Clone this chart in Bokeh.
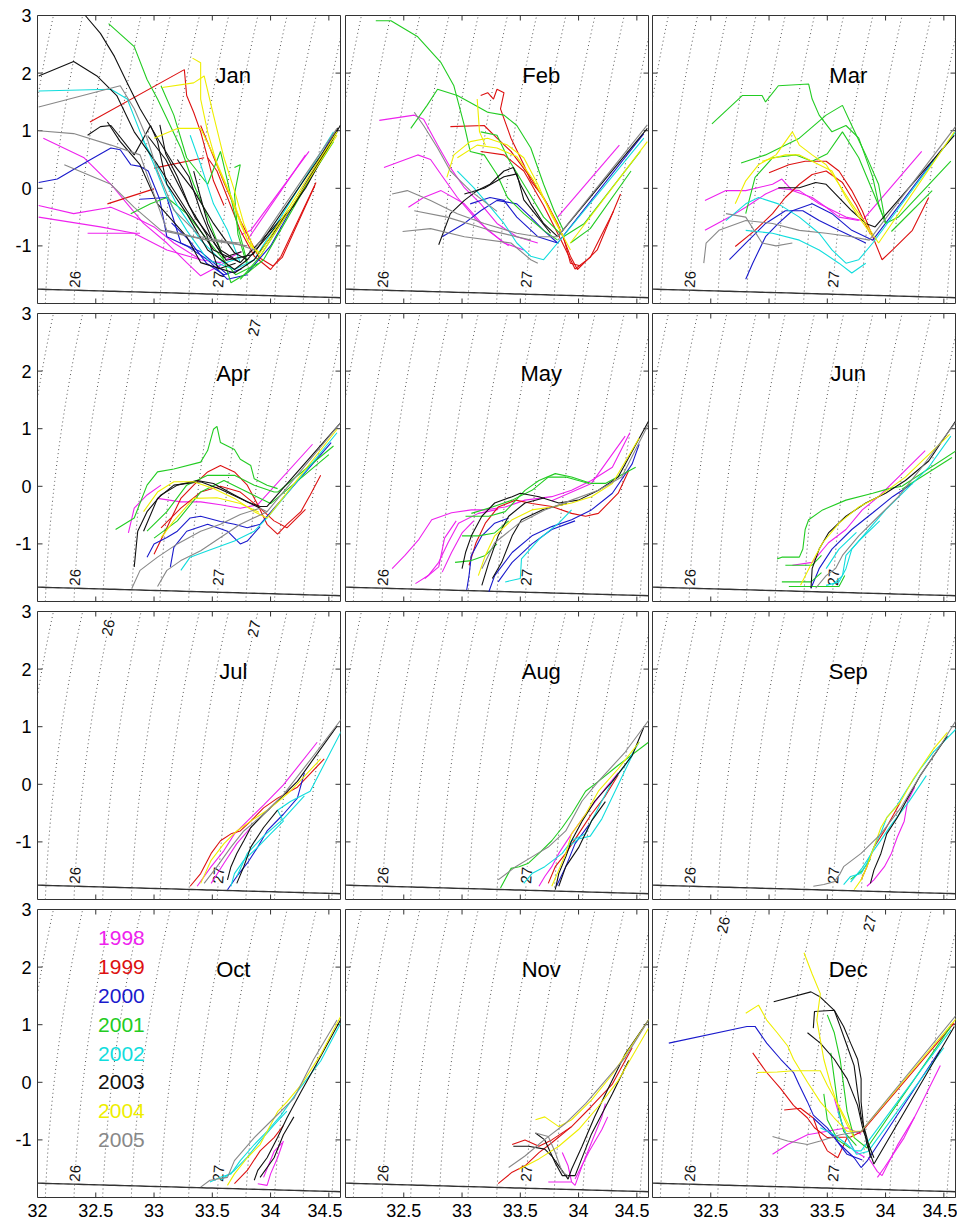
import numpy as np
from bokeh.plotting import figure
from bokeh.models import Range1d, FixedTicker, ColumnDataSource
from bokeh.layouts import gridplot
from bokeh.embed import file_html
from bokeh.resources import INLINE
from bokeh.core.properties import value

FONT = "Liberation Sans"
MONTHS = ["Jan", "Feb", "Mar", "Apr", "May", "Jun", "Jul", "Aug", "Sep", "Oct", "Nov", "Dec"]
YEARS = [1998, 1999, 2000, 2001, 2002, 2003, 2004, 2005]
YEAR_COLORS = ["#ee22ee", "#dd1111", "#1a1acc", "#22cc22", "#11dddd", "#111111", "#eeee00", "#888888"]
X_TICKS = [32.0, 32.5, 33.0, 33.5, 34.0, 34.5]
Y_TICKS = [-1, 0, 1, 2, 3]
SIGMA_LEVELS = [25.2, 25.4, 25.6, 25.8, 26.0, 26.2, 26.4, 26.6, 26.8, 27.0,
                27.2, 27.4, 27.6, 27.8, 28.0, 28.2]
BOTTOM_LABELS = [(26, -1.58), (27, -1.58)]
TOP_LABELS = {"Apr": [(27, 2.75)], "Jul": [(26, 2.72), (27, 2.70)], "Dec": [(26, 2.73), (27, 2.76)]}

# ---- profiles: (year, [(S, T), ...]) ----
JAN = [
    (2003, [(32.41, 3.0), (32.54, 2.69), (32.66, 2.29), (32.77, 1.83), (32.88, 1.38), (33.03, 0.87), (33.17, 0.41), (33.34, -0.04), (33.51, -0.61), (33.69, -1.12), (33.80, -1.24), (34.17, -0.38), (34.57, 0.98)]),
    (2003, [(32.01, 1.95), (32.31, 2.2), (32.51, 1.95), (32.68, 1.61), (32.83, 0.98), (33.03, 0.41), (33.28, -0.38), (33.51, -1.07), (33.74, -1.29), (34.2, -0.3), (34.58, 1.05)]),
    (2003, [(32.43, 0.92), (32.54, 1.07), (32.63, 1.09), (32.83, 0.58), (32.97, 1.09), (33.03, 0.81), (33.11, 0.07), (33.28, -0.44), (33.46, -1.07), (33.69, -1.41), (33.80, -1.24)]),
    (2003, [(32.60, 1.15), (32.71, 0.81), (32.88, 0.41), (33.03, -0.27), (33.28, -0.84), (33.40, -1.29), (33.69, -1.47), (33.86, -1.24), (34.3, 0.0), (34.6, 1.1)]),
    (2003, [(33.34, 0.30), (33.40, -0.16), (33.46, -0.61), (33.57, -1.07), (33.74, -1.29)]),
    (2003, [(32.95, 0.9), (33.1, 0.5), (33.2, 0.1), (33.35, -0.5), (33.5, -0.9), (33.6, -1.2), (33.75, -1.1)]),
    (2003, [(33.05, 1.1), (33.1, 0.6), (33.2, 0.2), (33.3, -0.3), (33.45, -0.8), (33.55, -1.4), (33.7, -1.3)]),
    (2003, [(33.2, 0.5), (33.3, 0.2), (33.4, -0.4), (33.5, -0.9), (33.62, -1.25), (33.85, -1.15), (34.55, 0.92)]),
    (2005, [(32.01, 1.41), (32.71, 1.78), (32.83, 1.38), (32.94, 0.87), (33.03, 0.30), (33.17, -0.38), (33.40, -0.84), (33.69, -0.95), (33.86, -1.07), (34.57, 1.04)]),
    (2005, [(32.01, 1.0), (32.31, 0.95), (32.63, 0.75), (32.88, 0.58), (33.11, -0.73), (33.46, -0.9), (33.74, -0.95)]),
    (2005, [(32.23, 0.41), (32.63, 0.07), (32.83, -0.33), (33.06, -0.73), (33.46, -0.9), (33.80, -1.0)]),
    (2002, [(32.01, 1.69), (32.63, 1.72), (32.77, 1.55), (32.88, 0.98), (33.0, 0.41), (33.11, -0.16), (33.28, -0.73), (33.46, -1.24), (33.69, -1.41), (33.86, -1.24), (34.54, 0.98)]),
    (2002, [(33.31, 0.92), (33.40, 0.41), (33.51, -0.27), (33.63, -0.73), (33.74, -1.29)]),
    (2002, [(32.9, 0.85), (33.05, 0.3), (33.2, -0.3), (33.4, -0.9), (33.6, -1.3), (33.75, -1.2)]),
    (2001, [(32.61, 2.86), (32.83, 2.46), (32.94, 1.89), (33.03, 1.55), (33.11, 1.21), (33.23, 0.70), (33.34, 0.07), (33.46, -0.50), (33.57, -1.07), (33.66, -1.64), (33.80, -1.47), (33.94, -1.24), (34.54, 0.87)]),
    (2001, [(33.06, 1.78), (33.17, 1.27), (33.28, 0.53), (33.46, 0.07), (33.57, 0.64), (33.63, 0.13), (33.69, -0.44), (33.80, -1.29)]),
    (2001, [(32.80, -0.44), (32.97, -0.27), (33.11, -0.16), (33.28, -0.44), (33.5, -1.0), (33.7, -1.5), (33.9, -1.3)]),
    (2001, [(33.74, -1.58), (33.91, -1.18), (34.54, 0.81)]),
    (2001, [(33.69, 0.36), (33.74, 0.41), (33.69, -0.1), (33.72, -0.8), (33.8, -1.35)]),
    (2004, [(33.33, 2.26), (33.40, 2.18), (33.40, 1.55), (33.46, 0.98), (33.54, 0.41), (33.66, -0.16), (33.74, -0.61), (33.83, -1.01), (33.91, -1.12), (34.57, 0.98)]),
    (2004, [(33.07, 1.75), (33.34, 1.83), (33.43, 1.95), (33.51, 1.27), (33.60, 0.53), (33.69, -0.04), (33.77, -0.61), (33.86, -1.07)]),
    (2004, [(33.0, 0.87), (33.20, 1.04), (33.40, 1.04), (33.51, 0.58), (33.69, -0.27), (33.8, -0.9), (33.91, -1.18), (34.57, 0.92)]),
    (1999, [(32.45, 1.15), (33.26, 2.06), (33.28, 1.61), (33.34, 1.32), (33.40, 0.98), (33.46, 0.53), (33.51, 0.13), (33.6, -0.3)]),
    (1999, [(32.60, -0.27), (33.0, -0.01)]),
    (1999, [(33.0, 0.35), (33.43, 0.53)]),
    (1999, [(33.46, 0.53), (33.54, 0.30), (33.63, -0.16), (33.74, -0.73), (33.86, -1.18), (34.0, -1.41), (34.09, -1.18), (34.39, 0.10)]),
    (1999, [(33.40, 1.09), (33.5, 0.6), (33.6, 0.1), (33.75, -0.6), (33.9, -1.2), (34.02, -1.35), (34.1, -1.2), (34.38, 0.05)]),
    (1998, [(32.05, 0.87), (32.40, 0.53), (32.63, 0.07), (32.77, -0.27), (32.91, -0.61), (33.11, -0.95), (33.28, -1.29), (33.40, -1.52), (33.6, -1.3)]),
    (1998, [(32.01, -0.30), (32.31, -0.44), (32.63, -0.33), (32.83, -0.50), (33.0, -0.67), (33.17, -0.95), (33.40, -1.24), (33.57, -1.29), (33.75, -1.1)]),
    (1998, [(32.01, -0.5), (32.54, -0.67), (32.83, -0.78), (33.11, -1.07), (33.40, -1.24)]),
    (1998, [(32.43, -0.78), (32.88, -0.78)]),
    (1998, [(33.75, -0.8), (33.83, -0.73), (34.33, 0.64)]),
    (1998, [(33.8, -0.9), (34.3, 0.58)]),
    (2000, [(32.01, 0.1), (32.17, 0.16), (32.43, 0.47), (32.63, 0.70), (32.71, 0.67), (32.80, 0.41), (32.88, 0.38), (32.95, 0.3), (33.05, -0.2), (33.11, -0.84), (33.28, -1.0), (33.46, -1.24), (33.63, -1.58), (33.80, -1.5)]),
    (2000, [(32.88, -0.19), (33.11, -0.16), (33.23, -0.95), (33.40, -1.1), (33.63, -1.5)]),
    (2000, [(33.15, -0.6), (33.3, -0.9), (33.45, -1.3), (33.6, -1.5), (33.75, -1.4)]),
    (2000, [(33.80, -1.47), (34.0, -1.0), (34.54, 0.95)]),
]

FEB = [
    (2001, [(32.26, 2.91), (32.39, 2.91), (32.62, 2.63), (32.82, 2.18), (32.93, 1.78), (33.02, 1.09), (33.07, 0.64), (33.19, 0.58), (33.30, 0.24), (33.39, -0.16), (33.53, -0.44), (33.70, -0.73), (33.82, -0.90)]),
    (2001, [(32.56, 1.04), (32.70, 1.44), (32.79, 1.72), (32.96, 1.61), (33.07, 1.49), (33.22, 1.32), (33.36, 1.27), (33.47, 1.09), (33.59, 0.70), (33.70, 0.07), (33.79, -0.39), (33.87, -0.73)]),
    (2001, [(33.16, 0.98), (33.30, 0.92), (33.40, 0.5), (33.55, 0.0), (33.7, -0.5), (33.85, -0.8)]),
    (2001, [(33.87, -0.84), (34.05, -0.61), (34.53, 0.64)]),
    (2001, [(33.93, -0.95), (34.1, -0.7), (34.45, 0.30)]),
    (1999, [(33.16, 1.61), (33.22, 1.66), (33.27, 1.55), (33.30, 1.72), (33.36, 1.66), (33.33, 1.38), (33.42, 0.87), (33.53, 0.41), (33.59, 0.13), (33.70, -0.16), (33.82, -0.61), (33.93, -1.18), (33.99, -1.41), (34.05, -1.29), (34.16, -1.07), (34.36, -0.10)]),
    (1999, [(32.90, 1.07), (33.19, 1.09), (33.30, 0.87), (33.42, 0.64), (33.59, 0.18), (33.73, -0.27), (33.87, -0.84), (33.93, -1.3), (34.02, -1.35)]),
    (1999, [(33.16, 0.64), (33.36, 0.58), (33.53, 0.3), (33.7, -0.3), (33.85, -0.9), (33.97, -1.4), (34.1, -1.2), (34.3, -0.4)]),
    (2004, [(32.87, 0.19), (32.93, 0.58), (33.07, 0.81), (33.22, 0.87), (33.39, 0.75), (33.53, 0.53), (33.65, 0.07), (33.76, -0.44), (33.87, -0.84), (33.93, -1.07)]),
    (2004, [(33.13, 1.55), (33.15, 0.98), (33.2, 0.75)]),
    (2004, [(32.96, 0.53), (33.13, 0.75), (33.30, 0.70), (33.47, 0.55), (33.61, 0.15), (33.76, -0.4), (33.87, -0.84)]),
    (2004, [(33.93, -0.95), (34.59, 0.81)]),
    (2003, [(32.80, -0.98), (32.90, -0.44), (33.02, -0.21), (33.13, -0.04), (33.24, 0.07), (33.36, 0.30), (33.44, 0.36), (33.50, 0.07), (33.59, -0.27), (33.70, -0.61), (33.82, -0.84), (34.59, 1.04)]),
    (2003, [(33.02, -0.1), (33.19, 0.0), (33.36, 0.2), (33.47, 0.25), (33.53, -0.2), (33.65, -0.5), (33.76, -0.78)]),
    (2005, [(32.40, -0.10), (32.53, -0.04), (32.73, -0.21), (32.96, -0.44), (33.19, -0.61), (33.47, -0.78), (33.65, -0.84), (33.82, -0.84), (34.59, 1.1)]),
    (2005, [(32.59, -0.39), (32.87, -0.5), (33.24, -0.73), (33.59, -0.9)]),
    (2005, [(32.49, -0.75), (32.73, -0.70), (33.02, -0.84), (33.42, -0.95), (33.59, -1.24), (33.65, -1.3)]),
    (2005, [(32.59, 1.32), (32.67, 1.09), (32.79, 0.70), (32.90, 0.30), (33.07, -0.04), (33.3, -0.4)]),
    (1998, [(32.29, 1.18), (32.59, 1.27), (32.67, 1.2), (32.79, 0.75), (32.90, 0.36), (33.02, 0.01), (33.16, -0.27), (33.30, -0.61), (33.47, -0.84), (33.65, -0.95)]),
    (1998, [(32.33, 0.36), (32.62, 0.58), (32.73, 0.5), (32.82, 0.24), (32.96, -0.16), (33.13, -0.56), (33.36, -0.95), (33.53, -1.07)]),
    (1998, [(32.54, -0.33), (32.67, -0.16), (32.82, -0.04), (33.02, -0.27), (33.22, -0.73), (33.4, -1.0)]),
    (1998, [(33.82, -0.50), (34.35, 0.75)]),
    (2002, [(32.96, 0.30), (33.10, 0.01), (33.22, -0.27), (33.36, -0.61), (33.47, -0.95), (33.59, -1.18), (33.70, -1.24), (33.82, -0.95), (34.56, 0.87)]),
    (2000, [(32.83, -0.84), (33.02, -0.61), (33.16, -0.39), (33.30, -0.21), (33.47, -0.27), (33.59, -0.50), (33.70, -0.73), (33.82, -0.95), (34.56, 0.95)]),
    (2000, [(33.07, -0.27), (33.24, -0.16), (33.36, -0.21), (33.47, -0.5), (33.65, -0.84), (33.82, -0.95)]),
]

MAR = [
    (2001, [(32.51, 1.12), (32.77, 1.61), (32.94, 1.61), (32.97, 1.5), (33.08, 1.78), (33.34, 1.81), (33.37, 1.55), (33.43, 1.27), (33.54, 0.98), (33.66, 1.09), (33.77, 0.87), (33.89, 0.19), (33.94, -0.27), (34.0, -0.61)]),
    (2001, [(32.76, 0.44), (32.97, 0.58), (33.26, 0.87), (33.49, 1.27), (33.63, 1.44), (33.71, 1.09), (33.83, 0.58), (33.94, 0.07), (34.0, -0.61)]),
    (2001, [(32.80, -0.44), (32.88, 0.19), (33.03, 0.53), (33.23, 0.58), (33.37, 0.47), (33.5, 0.6), (33.63, 0.98), (33.77, 0.53), (33.9, -0.1), (34.0, -0.6)]),
    (2001, [(34.0, -0.61), (34.11, -0.50), (34.56, 0.47)]),
    (2001, [(34.05, -0.75), (34.40, -0.04)]),
    (2004, [(32.71, -0.27), (32.80, 0.13), (32.91, 0.41), (33.06, 0.58), (33.20, 0.98), (33.26, 0.75), (33.37, 0.58), (33.49, 0.41), (33.60, 0.07), (33.71, -0.27), (33.83, -0.61), (33.94, -0.95), (34.59, 0.98)]),
    (2004, [(32.94, 0.47), (33.14, 0.58), (33.26, 0.58), (33.43, 0.41), (33.54, 0.3), (33.66, -0.16), (33.77, -0.5), (33.89, -0.84)]),
    (1999, [(33.0, 0.27), (33.17, 0.41), (33.31, 0.47), (33.49, 0.47), (33.60, 0.30), (33.71, -0.04), (33.80, -0.39), (33.89, -0.84), (33.97, -1.24), (34.06, -1.07), (34.23, -0.73), (34.37, -0.16)]),
    (1999, [(32.71, -1.01), (32.88, -0.73), (33.03, -0.44), (33.14, -0.16), (33.26, 0.07), (33.37, 0.24), (33.49, 0.3), (33.63, 0.1), (33.75, -0.3), (33.87, -0.8)]),
    (1998, [(32.45, -0.21), (32.63, -0.04), (32.80, -0.04), (33.03, 0.07), (33.11, 0.16), (33.20, -0.04), (33.37, -0.16), (33.49, -0.33), (33.60, -0.50), (33.77, -0.56)]),
    (1998, [(32.45, -0.73), (32.66, -0.50), (32.80, -0.33), (32.97, -0.10), (33.08, 0.0), (33.26, -0.04), (33.43, -0.27), (33.66, -0.50), (33.80, -0.56), (34.31, 0.64)]),
    (2003, [(33.08, 0.01), (33.26, 0.01), (33.40, 0.10), (33.49, 0.07), (33.60, -0.16), (33.71, -0.39), (33.83, -0.61), (33.91, -0.67), (34.59, 0.92)]),
    (2005, [(32.44, -1.30), (32.46, -0.95), (32.57, -0.73), (32.80, -0.56), (33.03, -0.61), (33.26, -0.73), (33.49, -0.78), (33.71, -0.84), (33.86, -0.90), (34.63, 1.15)]),
    (2005, [(32.63, -0.44), (32.80, -0.5), (32.94, -0.95), (33.06, -1.0), (33.2, -0.95)]),
    (2002, [(32.63, -0.56), (32.80, -0.27), (32.91, -0.16), (33.08, -0.27), (33.26, -0.50), (33.43, -0.78), (33.54, -1.07), (33.66, -1.30), (33.77, -1.24), (33.89, -0.95), (34.60, 0.98)]),
    (2002, [(32.80, -0.73), (33.03, -0.78), (33.26, -0.90), (33.43, -1.07), (33.60, -1.30), (33.71, -1.47), (33.83, -1.3)]),
    (2000, [(32.80, -1.58), (32.86, -1.30), (32.97, -0.84), (33.08, -0.61), (33.20, -0.39), (33.37, -0.27), (33.54, -0.44), (33.71, -0.73), (33.89, -0.90), (34.49, 0.70)]),
    (2000, [(32.66, -1.24), (32.80, -0.95), (32.97, -0.61), (33.14, -0.39), (33.29, -0.39), (33.43, -0.56), (33.60, -0.73), (33.83, -0.95)]),
]

APR = [
    (2001, [(32.67, -0.75), (32.83, -0.55), (32.94, 0.02), (33.03, 0.25), (33.17, 0.30), (33.40, 0.42), (33.46, 0.62), (33.51, 0.99), (33.54, 1.04), (33.57, 0.76), (33.69, 0.64), (33.74, 0.47), (33.83, 0.36), (33.86, 0.13), (33.97, 0.02), (34.06, -0.04)]),
    (2001, [(32.94, -0.78), (33.11, -0.44), (33.28, 0.02), (33.46, 0.19), (33.69, 0.19), (33.86, 0.02), (34.03, -0.10), (34.06, -0.1), (34.54, 0.70)]),
    (2001, [(33.0, -0.9), (33.2, -0.6), (33.4, -0.1), (33.6, 0.1), (33.8, -0.1), (34.0, -0.3), (34.5, 0.55)]),
    (2004, [(32.91, -0.44), (33.03, -0.10), (33.17, 0.08), (33.34, 0.08), (33.51, -0.04), (33.69, -0.21), (33.86, -0.44), (33.97, -0.55), (34.57, 0.99)]),
    (2004, [(33.06, -0.89), (33.17, -0.6), (33.34, -0.21), (33.54, -0.2), (33.74, -0.3), (33.9, -0.45)]),
    (2003, [(32.83, -1.40), (32.86, -0.78), (32.94, -0.44), (33.06, -0.15), (33.20, 0.02), (33.37, 0.10), (33.51, 0.05), (33.69, -0.15), (33.80, -0.27), (33.91, -0.35), (33.97, -0.35), (34.60, 1.10)]),
    (2003, [(32.91, -0.78), (33.03, -0.21), (33.17, 0.02), (33.40, 0.08), (33.57, -0.05), (33.74, -0.21), (33.91, -0.38)]),
    (1999, [(33.0, -1.18), (33.11, -0.72), (33.23, -0.21), (33.34, 0.02), (33.46, 0.25), (33.57, 0.36), (33.69, 0.25), (33.80, 0.02), (33.89, -0.32), (33.97, -0.66), (34.06, -0.83), (34.14, -0.66), (34.26, -0.44), (34.34, -0.15), (34.43, 0.19)]),
    (1999, [(33.06, -0.72), (33.23, -0.38), (33.40, -0.10), (33.57, 0.0), (33.74, -0.1), (33.91, -0.38), (34.03, -0.6), (34.14, -0.72), (34.3, -0.4)]),
    (1998, [(32.78, -0.81), (32.83, -0.38), (32.94, -0.15), (33.06, 0.02)]),
    (1998, [(33.03, -0.21), (33.23, -0.27), (33.40, -0.27), (33.57, -0.32), (33.74, -0.38), (33.89, -0.32), (34.36, 0.73)]),
    (2000, [(32.94, -1.23), (33.0, -1.0), (33.11, -0.89), (33.20, -0.78), (33.31, -0.55), (33.40, -0.52), (33.57, -0.61), (33.69, -0.66), (33.80, -0.72), (33.91, -0.66), (34.52, 0.76)]),
    (2000, [(33.14, -1.40), (33.17, -1.06), (33.28, -0.78), (33.46, -0.66), (33.63, -0.78), (33.74, -1.0), (33.80, -0.95), (33.91, -0.7)]),
    (2005, [(32.81, -1.77), (32.88, -1.46), (33.03, -1.23), (33.20, -1.0), (33.40, -0.78), (33.57, -0.66), (33.74, -0.49), (33.91, -0.38), (33.97, -0.44), (34.60, 1.10)]),
    (2005, [(33.03, -1.74), (33.11, -1.46), (33.23, -1.29), (33.40, -1.12), (33.57, -0.89), (33.74, -0.66), (33.97, -0.44)]),
    (2002, [(33.23, -1.46), (33.31, -1.23), (33.46, -1.12), (33.69, -0.95), (33.86, -0.78), (33.97, -0.55), (34.57, 0.93)]),
]

MAY = [
    (1998, [(32.40, -1.43), (32.51, -1.20), (32.63, -0.92), (32.74, -0.58), (32.91, -0.46), (33.08, -0.41), (33.20, -0.41), (33.37, -0.36), (33.54, -0.24), (33.77, -0.18), (33.94, -0.07), (34.11, 0.10), (34.29, 0.33), (34.44, 0.93)]),
    (1998, [(32.60, -1.69), (32.71, -1.55), (32.80, -1.32), (32.88, -0.98), (32.97, -0.64), (33.14, -0.47), (33.31, -0.4)]),
    (1998, [(32.68, -1.60), (32.8, -1.4), (32.85, -0.9), (32.95, -0.6)]),
    (1998, [(32.83, -1.49), (32.91, -1.15), (33.0, -0.81), (33.1, -0.6)]),
    (1998, [(33.77, -0.25), (34.11, 0.05), (34.40, 0.87)]),
    (2003, [(33.0, -1.43), (33.03, -1.15), (33.08, -0.86), (33.17, -0.52), (33.28, -0.29), (33.43, -0.18), (33.50, -0.12), (33.66, -0.18), (33.83, -0.29), (34.0, -0.24), (34.17, -0.07), (34.34, 0.16), (34.60, 1.13)]),
    (2003, [(33.17, -1.72), (33.23, -1.32), (33.31, -0.86), (33.40, -0.52), (33.54, -0.29), (33.71, -0.2)]),
    (2003, [(33.26, -1.60), (33.34, -1.32), (33.43, -0.86), (33.51, -0.58), (33.7, -0.4), (33.9, -0.3)]),
    (2001, [(33.03, -0.52), (33.23, -0.52), (33.37, -0.44), (33.54, -0.07), (33.66, 0.10), (33.80, 0.22), (33.94, 0.16), (34.11, 0.05), (34.23, 0.05), (34.49, 0.33)]),
    (2001, [(33.08, -0.47), (33.26, -0.36), (33.43, -0.24), (33.60, -0.07), (33.74, 0.16), (33.89, 0.16), (34.09, 0.05)]),
    (2001, [(32.94, -1.32), (33.08, -1.29), (33.20, -1.20), (33.3, -1.0)]),
    (2001, [(33.0, -0.86), (33.14, -0.86), (33.28, -0.81), (33.4, -0.6)]),
    (1999, [(33.06, -1.37), (33.12, -0.98), (33.20, -0.64), (33.31, -0.36), (33.46, -0.24), (33.60, -0.3), (33.77, -0.35), (33.94, -0.47), (34.06, -0.52), (34.17, -0.47), (34.34, -0.12), (34.43, 0.27)]),
    (2004, [(33.14, -1.55), (33.20, -1.20), (33.28, -0.86), (33.43, -0.58), (33.60, -0.41), (33.77, -0.36), (33.94, -0.29), (34.11, -0.18), (34.29, 0.05), (34.52, 0.84)]),
    (2000, [(33.04, -1.80), (33.06, -1.55), (33.08, -1.20), (33.17, -0.86), (33.28, -0.64), (33.4, -0.55)]),
    (2000, [(33.23, -1.83), (33.28, -1.55), (33.43, -1.15), (33.60, -0.86), (33.77, -0.70), (33.94, -0.58), (34.11, -0.41), (34.29, -0.12), (34.46, 0.39), (34.52, 0.73)]),
    (2000, [(33.31, -1.66), (33.43, -1.32), (33.60, -1.0), (33.77, -0.75), (33.97, -0.6)]),
    (2002, [(33.37, -1.66), (33.50, -1.60), (33.51, -1.26), (33.66, -0.92), (33.83, -0.64), (33.94, -0.41)]),
    (2005, [(33.17, -1.43), (33.28, -0.98), (33.49, -0.64), (33.71, -0.41), (33.94, -0.24), (34.17, -0.07), (34.37, 0.16), (34.62, 1.16)]),
]

JUN = [
    (2001, [(33.07, -1.26), (33.11, -1.23), (33.26, -1.23), (33.29, -1.09), (33.31, -0.75), (33.34, -0.58), (33.46, -0.41), (33.66, -0.24), (33.89, -0.12), (34.03, -0.04), (34.14, 0.0), (34.63, 0.65)]),
    (2001, [(33.14, -1.37), (33.37, -1.37), (33.45, -1.2)]),
    (2001, [(33.11, -1.66), (33.36, -1.66), (33.45, -1.5)]),
    (2001, [(33.17, -1.74), (33.60, -1.74), (33.65, -1.55)]),
    (2001, [(34.14, -0.05), (34.57, 0.50)]),
    (2003, [(33.36, -1.77), (33.37, -1.43), (33.43, -1.09), (33.51, -0.81), (33.66, -0.52), (33.83, -0.29), (34.0, -0.12), (34.17, 0.10), (34.37, 0.44), (34.60, 1.13)]),
    (2004, [(33.27, -1.72), (33.37, -1.32), (33.46, -0.98), (33.60, -0.64), (33.77, -0.36), (33.94, -0.18), (34.17, 0.16), (34.55, 0.90)]),
    (1998, [(33.20, -1.37), (33.37, -1.32), (33.51, -0.98), (33.66, -0.75), (33.80, -0.41), (33.94, -0.18), (34.11, 0.16), (34.34, 0.62)]),
    (2000, [(33.36, -1.77), (33.43, -1.43), (33.54, -1.09), (33.71, -0.75), (33.89, -0.46), (34.06, -0.18), (34.23, 0.05)]),
    (2005, [(33.40, -1.77), (33.49, -1.55), (33.57, -1.43), (33.63, -1.20), (33.77, -0.86), (33.94, -0.52), (34.11, -0.18), (34.31, 0.33), (34.62, 1.16)]),
    (2002, [(33.49, -1.72), (33.60, -1.66), (33.66, -1.43), (33.71, -1.09), (33.83, -0.81), (34.0, -0.41), (34.17, -0.07), (34.37, 0.33), (34.56, 0.87)]),
    (2002, [(33.54, -1.72), (33.63, -1.55), (33.66, -1.2), (33.77, -0.95), (33.95, -0.6)]),
    (2002, [(33.49, -1.43), (33.60, -1.09), (33.75, -0.8)]),
]

JUL = [
    (1999, [(33.31, -1.77), (33.40, -1.55), (33.49, -1.20), (33.57, -0.98), (33.66, -0.86), (33.74, -0.81), (33.83, -0.64), (33.94, -0.41), (34.06, -0.24), (34.23, -0.05), (34.46, 0.44)]),
    (2004, [(33.40, -1.72), (33.49, -1.32), (33.60, -1.03), (33.71, -0.81), (33.83, -0.64), (34.0, -0.41), (34.17, -0.12), (34.43, 0.44)]),
    (1998, [(33.37, -1.77), (33.49, -1.43), (33.60, -1.15), (33.69, -0.86), (33.80, -0.64), (33.94, -0.36), (34.11, -0.01), (34.40, 0.73)]),
    (1998, [(33.49, -1.72), (33.60, -1.37), (33.71, -1.03), (33.83, -0.75)]),
    (2005, [(33.43, -1.72), (33.54, -1.43), (33.66, -1.09), (33.77, -0.81), (33.94, -0.52), (34.11, -0.18), (34.37, 0.50), (34.63, 1.19)]),
    (2003, [(33.63, -1.66), (33.66, -1.43), (33.71, -1.20), (33.77, -0.98), (33.83, -0.75), (33.94, -0.52), (34.06, -0.29), (34.23, 0.05), (34.57, 1.01)]),
    (2003, [(33.71, -1.72), (33.77, -1.43), (33.83, -1.09), (33.94, -0.75), (34.06, -0.45)]),
    (2002, [(33.66, -1.77), (33.69, -1.55), (33.77, -1.32), (33.89, -1.09), (34.0, -0.86), (34.11, -0.64), (34.06, -0.45), (34.17, -0.3), (34.34, -0.12), (34.63, 1.01)]),
    (2002, [(33.71, -1.60), (33.80, -1.2), (33.94, -0.9), (34.11, -0.6), (34.29, -0.2)]),
    (2000, [(33.63, -1.83), (33.71, -1.60), (33.80, -1.37), (33.89, -1.09), (33.97, -0.81), (34.11, -0.52), (34.23, -0.24), (34.29, 0.2)]),
]

AUG = [
    (2001, [(33.33, -1.80), (33.42, -1.46), (33.49, -1.43), (33.57, -1.37), (33.66, -1.20), (33.77, -0.98), (33.86, -0.75), (33.94, -0.52), (34.06, -0.12), (34.17, 0.05), (34.34, 0.33), (34.60, 0.73)]),
    (2005, [(33.31, -1.66), (33.46, -1.43), (33.60, -1.26), (33.74, -1.09), (33.89, -0.81), (34.03, -0.29), (34.17, 0.05), (34.40, 0.56), (34.62, 1.16)]),
    (2002, [(33.53, -1.72), (33.60, -1.55), (33.71, -1.43), (33.86, -1.20), (33.94, -0.98), (34.06, -0.86), (34.11, -0.64), (34.20, -0.29), (34.29, 0.05), (34.40, 0.33), (34.52, 0.73)]),
    (2002, [(33.90, -1.1), (34.0, -0.95), (34.1, -0.9), (34.2, -0.6), (34.46, 0.50)]),
    (1998, [(33.66, -1.77), (33.71, -1.60), (33.77, -1.43), (33.83, -1.20), (33.94, -0.86), (34.06, -0.52), (34.23, -0.07), (34.34, 0.2)]),
    (1999, [(33.74, -1.72), (33.80, -1.43), (33.89, -1.20), (34.0, -0.86), (34.11, -0.52), (34.23, -0.2), (34.34, 0.16)]),
    (2004, [(33.77, -1.77), (33.83, -1.49), (33.89, -1.2), (33.94, -0.86), (34.06, -0.52), (34.17, -0.12), (34.34, 0.27), (34.52, 0.73)]),
    (2003, [(33.80, -1.83), (33.83, -1.55), (33.89, -1.26), (33.94, -0.98), (34.03, -0.64), (34.14, -0.29), (34.29, 0.05), (34.46, 0.50), (34.56, 0.99)]),
    (2003, [(33.83, -1.77), (33.89, -1.43), (34.0, -1.1), (34.11, -0.64), (34.23, -0.3)]),
    (2000, [(33.81, -1.77), (33.89, -1.43), (33.97, -1.03), (34.09, -0.7)]),
]

SEP = [
    (2005, [(33.38, -1.77), (33.47, -1.74), (33.56, -1.69), (33.61, -1.55), (33.64, -1.43), (33.79, -1.20), (33.96, -0.86), (34.13, -0.41), (34.30, 0.16), (34.47, 0.67), (34.63, 1.19)]),
    (2002, [(33.64, -1.74), (33.70, -1.60), (33.79, -1.55), (33.84, -1.37), (33.90, -1.09), (33.96, -0.84), (34.01, -0.58), (34.10, -0.36), (34.19, -0.07), (34.30, 0.27), (34.41, 0.56), (34.63, 1.01)]),
    (2002, [(33.7, -1.7), (33.8, -1.45), (33.88, -1.2), (33.95, -1.0), (34.05, -0.7), (34.2, -0.3), (34.35, 0.15)]),
    (2004, [(33.73, -1.83), (33.79, -1.66), (33.84, -1.43), (33.90, -1.09), (33.96, -0.75), (34.01, -0.58), (34.13, -0.30), (34.24, 0.10), (34.41, 0.61), (34.53, 0.90)]),
    (1998, [(33.84, -1.77), (33.90, -1.66), (33.99, -1.43), (34.05, -1.20), (34.10, -0.92), (34.16, -0.64), (34.19, -0.29), (34.25, -0.05)]),
    (1999, [(33.79, -1.66), (33.84, -1.43), (33.90, -1.09), (33.99, -0.81), (34.07, -0.52), (34.13, -0.30)]),
    (2003, [(33.87, -1.72), (33.90, -1.49), (33.96, -1.20), (34.01, -0.86), (34.10, -0.58), (34.19, -0.24), (34.30, 0.16), (34.53, 0.84)]),
    (2001, [(33.70, -1.65), (33.8, -1.5), (33.87, -1.3)]),
]

OCT = [
    (2005, [(33.40, -1.82), (33.48, -1.70), (33.63, -1.65), (33.69, -1.36), (33.86, -0.96), (34.03, -0.62), (34.20, -0.28), (34.37, 0.40), (34.57, 1.08)]),
    (2002, [(33.48, -1.73), (33.57, -1.65), (33.66, -1.59), (33.74, -1.36), (33.86, -1.08), (33.97, -0.85), (34.09, -0.57), (34.26, -0.08), (34.43, 0.37), (34.60, 1.02)]),
    (2002, [(33.57, -1.7), (33.69, -1.53), (33.80, -1.3), (33.91, -1.02), (34.03, -0.74), (34.14, -0.5)]),
    (2004, [(33.63, -1.79), (33.69, -1.59), (33.80, -1.31), (33.91, -1.08), (34.0, -0.74), (34.06, -0.51), (34.14, -0.34), (34.26, -0.05), (34.43, 0.48), (34.60, 1.14)]),
    (1999, [(33.69, -1.76), (33.80, -1.53), (33.91, -1.19), (34.03, -0.96), (34.11, -0.75)]),
    (2003, [(33.86, -1.70), (33.89, -1.53), (33.97, -1.31), (34.06, -0.96), (34.14, -0.62), (34.26, -0.17), (34.40, 0.34), (34.60, 1.08)]),
    (2003, [(33.91, -1.65), (34.03, -1.31), (34.11, -0.91), (34.2, -0.6)]),
    (1998, [(33.89, -1.76), (33.97, -1.79), (34.0, -1.59), (34.06, -1.31), (34.11, -1.02)]),
    (1998, [(33.94, -1.65), (34.03, -1.2), (34.1, -1.05)]),
]

NOV = [
    (1999, [(33.31, -1.76), (33.43, -1.56), (33.54, -1.45), (33.66, -1.22), (33.77, -1.05), (33.94, -0.77), (34.11, -0.42), (34.29, -0.03), (34.46, 0.60)]),
    (1999, [(33.43, -1.08), (33.54, -1.0), (33.66, -1.11), (33.77, -1.0), (33.94, -0.77)]),
    (2005, [(33.40, -1.48), (33.54, -1.28), (33.71, -0.99), (33.89, -0.71), (34.06, -0.37), (34.23, 0.03), (34.40, 0.43), (34.62, 1.14)]),
    (2005, [(33.63, -0.88), (33.74, -0.94), (33.80, -1.22), (33.86, -1.56), (33.91, -1.62)]),
    (2004, [(33.63, -0.65), (33.71, -0.60), (33.83, -0.77), (33.94, -0.65), (34.11, -0.31), (34.29, 0.14), (34.62, 1.14)]),
    (2004, [(33.49, -1.51), (33.66, -1.33), (33.83, -1.11), (34.0, -0.82), (34.17, -0.42), (34.34, 0.03), (34.60, 0.94)]),
    (2003, [(33.44, -1.11), (33.57, -1.11), (33.71, -1.16), (33.77, -1.28), (33.83, -1.45), (33.89, -1.62), (33.91, -1.68), (33.94, -1.51), (34.03, -1.11), (34.14, -0.59), (34.26, -0.08), (34.40, 0.49), (34.62, 1.14)]),
    (2003, [(33.63, -0.88), (33.71, -1.0), (33.80, -1.4), (33.86, -1.62), (33.97, -1.62), (34.11, -0.9), (34.29, -0.2), (34.43, 0.38)]),
    (1998, [(33.74, -1.73), (33.94, -1.73), (33.97, -1.79), (34.03, -1.45), (34.11, -1.05), (34.20, -0.60), (34.23, -0.37)]),
    (1998, [(33.86, -1.22), (33.91, -1.45), (33.94, -1.73)]),
    (1998, [(33.97, -1.68), (34.09, -1.2), (34.2, -0.82), (34.25, -0.6)]),
]

DEC = [
    (2000, [(32.14, 0.68), (32.81, 0.97), (32.88, 0.97), (32.98, 0.68), (33.10, 0.40), (33.21, 0.17), (33.26, -0.05), (33.33, -0.34), (33.38, -0.57), (33.50, -0.79), (33.61, -1.08), (33.73, -1.31), (33.79, -1.48), (33.84, -1.37), (34.47, 0.57)]),
    (2000, [(33.38, -0.62), (33.56, -0.96), (33.67, -1.25), (33.8, -1.35)]),
    (2004, [(33.30, 2.25), (33.37, 1.88), (33.44, 1.54), (33.41, 1.08), (33.44, 0.74), (33.47, 0.40), (33.53, -0.05), (33.59, -0.40), (33.67, -0.74), (33.73, -0.96)]),
    (2004, [(32.80, 1.20), (32.91, 1.34), (32.98, 1.08), (33.07, 0.86), (33.16, 0.63), (33.21, 0.40), (33.33, 0.0), (33.44, -0.34), (33.56, -0.62), (33.67, -0.85), (33.79, -0.85), (34.62, 1.14)]),
    (2004, [(32.90, 0.17), (33.07, 0.18), (33.21, 0.20), (33.44, 0.20), (33.50, -0.05), (33.61, -0.45), (33.7, -0.8)]),
    (2003, [(33.04, 1.40), (33.36, 1.57), (33.44, 1.48), (33.56, 1.25), (33.64, 0.97), (33.70, 0.68), (33.76, 0.40), (33.79, 0.06), (33.79, -0.34), (33.81, -0.74), (33.84, -1.08), (33.90, -1.42), (34.59, 0.97)]),
    (2003, [(33.38, 0.94), (33.39, 1.23), (33.56, 1.25), (33.61, 0.97), (33.67, 0.63), (33.73, 0.29), (33.76, -0.17), (33.79, -0.6), (33.84, -0.96), (33.87, -1.31)]),
    (2003, [(33.33, 0.86), (33.44, 0.68), (33.56, 0.40), (33.67, 0.06), (33.76, -0.40), (33.81, -0.85), (33.90, -1.31)]),
    (2001, [(33.50, 1.17), (33.56, 0.86), (33.61, 0.40), (33.64, -0.05), (33.67, -0.51), (33.73, -0.96), (33.84, -1.14), (34.56, 0.97)]),
    (2001, [(33.53, 0.51), (33.56, 0.06), (33.59, -0.40), (33.64, -0.85), (33.75, -1.1)]),
    (2001, [(33.47, -0.2), (33.50, -0.65), (33.59, -1.0), (33.7, -1.15)]),
    (1998, [(33.03, -1.25), (33.16, -1.08), (33.33, -0.91), (33.50, -0.85), (33.67, -0.79), (33.79, -0.9)]),
    (1998, [(33.56, -0.28), (33.61, -0.62), (33.67, -0.96), (33.73, -1.19), (33.82, -1.3)]),
    (1998, [(33.93, -1.65), (33.99, -1.48), (34.16, -0.96), (34.30, -0.40), (34.47, 0.29)]),
    (1998, [(33.85, -1.3), (33.93, -1.55), (33.97, -1.62), (34.1, -1.1), (34.25, -0.6)]),
    (1999, [(32.86, 0.51), (32.98, 0.17), (33.10, -0.11), (33.21, -0.40), (33.33, -0.62), (33.39, -0.79), (33.50, -0.96), (33.7, -0.95), (33.8, -0.85), (34.59, 1.03)]),
    (1999, [(33.13, -0.48), (33.27, -0.45), (33.38, -0.62), (33.44, -0.96), (33.50, -1.19), (33.59, -1.31), (33.67, -0.96)]),
    (2002, [(33.44, -0.79), (33.56, -0.91), (33.67, -1.08), (33.73, -1.19), (33.79, -1.19), (34.56, 0.91)]),
    (2002, [(33.59, -0.51), (33.67, -0.96), (33.75, -1.25), (33.85, -1.2), (34.5, 0.6)]),
    (2005, [(33.03, -0.94), (33.16, -1.02), (33.33, -1.08), (33.44, -1.02), (33.61, -0.91), (33.79, -0.85), (34.62, 1.20)]),
]

MONTH_DATA = [JAN, FEB, MAR, APR, MAY, JUN, JUL, AUG, SEP, OCT, NOV, DEC]


# ---- seawater background (UNESCO EOS-80 at p = 0, freezing point) ----
def sigma0(S, T):
    rw = (999.842594 + 6.793952e-2 * T - 9.095290e-3 * T ** 2 + 1.001685e-4 * T ** 3
          - 1.120083e-6 * T ** 4 + 6.536332e-9 * T ** 5)
    A = 8.24493e-1 - 4.0899e-3 * T + 7.6438e-5 * T ** 2 - 8.2467e-7 * T ** 3 + 5.3875e-9 * T ** 4
    B = -5.72466e-3 + 1.0227e-4 * T - 1.6546e-6 * T ** 2
    return rw + A * S + B * S ** 1.5 + 4.8314e-4 * S ** 2 - 1000.0


def iso_S(sig, T):
    T = np.asarray(T, dtype=float)
    S = np.full_like(T, 33.0)
    for _ in range(40):
        f = sigma0(S, T) - sig
        d = (sigma0(S + 1e-4, T) - sigma0(S - 1e-4, T)) / 2e-4
        S = S - f / d
    return S


def freezing(S):
    return -0.0575 * S + 1.710523e-3 * S ** 1.5 - 2.154996e-4 * S ** 2


S_MIN, S_MAX = 32.0, 34.6
T_MIN, T_MAX = -2.0, 3.0
FRAME_W, FRAME_H = 303, 288
TICK_LEN = 5
# (left, right) borders per column, (top, bottom) borders per row
COL_BORDERS = [(37, 2), (3, 1), (3, 2)]
ROW_BORDERS = [(15, 1), (9, 1), (9, 1), (9, 27)]

T_GRID = np.linspace(T_MIN, T_MAX, 121)
ISO_XS = [iso_S(s, T_GRID) for s in SIGMA_LEVELS]
ISO_YS = [T_GRID for _ in SIGMA_LEVELS]
S_F = np.linspace(S_MIN, S_MAX, 60)
T_F = freezing(S_F)

PX_PER_S = FRAME_W / (S_MAX - S_MIN)
PX_PER_T = FRAME_H / (T_MAX - T_MIN)


def label_source(items):
    xs, ys, txt, ang = [], [], [], []
    for lev, t in items:
        s = float(iso_S(lev, [t])[0])
        ds = float(iso_S(lev, [t + 0.05])[0] - iso_S(lev, [t - 0.05])[0])
        ang.append(float(np.arctan2(0.1 * PX_PER_T, ds * PX_PER_S)))
        xs.append(s)
        ys.append(t)
        txt.append(str(lev))
    return ColumnDataSource(dict(x=xs, y=ys, text=txt, angle=ang))


def style_axis(ax, ticks):
    ax.ticker = FixedTicker(ticks=ticks)
    ax.major_tick_in = 0
    ax.major_tick_out = 0
    ax.minor_tick_in = 0
    ax.minor_tick_out = 0
    ax.axis_line_color = None
    ax.major_label_overrides = {t: ("%g" % t) for t in ticks}
    ax.major_label_text_font = FONT
    ax.major_label_text_font_size = "18px"
    ax.major_label_text_color = "black"
    ax.major_label_standoff = 6


figs = []
for i, (name, data) in enumerate(zip(MONTHS, MONTH_DATA)):
    r, c = divmod(i, 3)
    bl, br = COL_BORDERS[c]
    bt, bb = ROW_BORDERS[r]
    p = figure(frame_width=FRAME_W, frame_height=FRAME_H,
               x_range=Range1d(S_MIN, S_MAX), y_range=Range1d(T_MIN, T_MAX),
               output_backend="svg", toolbar_location=None,
               x_axis_location="below" if r == 3 else None,
               y_axis_location="left" if c == 0 else None,
               min_border_left=bl, min_border_right=br,
               min_border_top=bt, min_border_bottom=bb,
               background_fill_color="white", border_fill_color="white")
    p.xgrid.visible = False
    p.ygrid.visible = False
    p.outline_line_color = "#333333"
    p.outline_line_width = 1

    xt = X_TICKS if c == 0 else X_TICKS[1:]
    if r == 3:
        style_axis(p.below[0], xt)
    if c == 0:
        style_axis(p.left[0], Y_TICKS)

    # inward ticks on all four sides
    nx, ny = len(xt), len(Y_TICKS)
    tick_kw = dict(length=TICK_LEN, length_units="screen", line_color="#333333", line_width=1)
    p.ray(x=xt, y=[T_MIN] * nx, angle=np.pi / 2, **tick_kw)
    p.ray(x=xt, y=[T_MAX] * nx, angle=-np.pi / 2, **tick_kw)
    p.ray(x=[S_MIN] * ny, y=Y_TICKS, angle=0.0, **tick_kw)
    p.ray(x=[S_MAX] * ny, y=Y_TICKS, angle=np.pi, **tick_kw)

    # isopycnals
    p.multi_line(xs=ISO_XS, ys=ISO_YS, line_color="#555555", line_width=1, line_dash="1 3")
    labels = list(BOTTOM_LABELS) + TOP_LABELS.get(name, [])
    p.text(x="x", y="y", text="text", angle="angle", source=label_source(labels),
           text_font=value(FONT), text_font_size="15px", text_color="#111111",
           text_align="center", text_baseline="middle",
           background_fill_color="white")
    # freezing line
    p.line(S_F, T_F, line_color="#333333", line_width=1.4)

    # profiles
    xs, ys, cols = [], [], []
    for yr, pts in sorted(data, key=lambda d: d[0]):
        a = np.asarray(pts, dtype=float)
        xs.append(a[:, 0])
        ys.append(a[:, 1])
        cols.append(YEAR_COLORS[YEARS.index(yr)])
    p.multi_line(xs=xs, ys=ys, line_color=cols, line_width=1.1)

    # month name
    p.text(x=[33.68], y=[1.95], text=[name], text_font=value(FONT), text_font_size="22px",
           text_color="black", text_align="center", text_baseline="middle")

    if name == "Oct":
        leg = ColumnDataSource(dict(x=[32.72] * len(YEARS),
                                    y=[2.5 - 0.5 * k for k in range(len(YEARS))],
                                    text=[str(y) for y in YEARS], color=YEAR_COLORS))
        p.text(x="x", y="y", text="text", text_color="color", source=leg,
               text_font=value(FONT), text_font_size="21px",
               text_align="center", text_baseline="middle")
    figs.append(p)

grid = gridplot([figs[0:3], figs[3:6], figs[6:9], figs[9:12]], toolbar_location=None)
open("out.html", "w").write(file_html(grid, INLINE))
